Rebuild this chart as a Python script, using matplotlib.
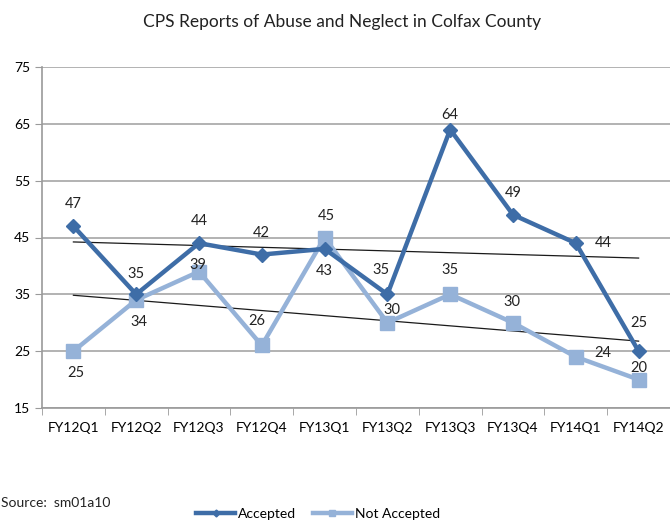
import numpy as np
import matplotlib.pyplot as plt

quarters = ["FY12Q1", "FY12Q2", "FY12Q3", "FY12Q4", "FY13Q1",
            "FY13Q2", "FY13Q3", "FY13Q4", "FY14Q1", "FY14Q2"]
accepted = [47, 35, 44, 42, 43, 35, 64, 49, 44, 25]
not_accepted = [25, 34, 39, 26, 45, 30, 35, 30, 24, 20]

# label offsets in pixels (dx, dy) relative to each point
acc_offsets = [(0, 22), (0, 20), (0, 22), (0, 22), (0, -22), (-6, 24), (0, 15), (0, 22), (28, 0), (0, 28)]
nacc_offsets = [(2, -22), (3, -22), (-1, 7), (-5, 24), (2, 21), (5, 13), (0, 24), (-1, 21), (27, 4), (0, 12)]

ACC_COLOR = "#3E6DA7"
NACC_COLOR = "#95B2D8"

plt.rcParams["font.family"] = ["Lato", "DejaVu Sans"]

fig = plt.figure(figsize=(6.7, 5.21), dpi=100)
ax = fig.add_axes([42 / 670, 113 / 521, 628 / 670, 341 / 521])

x = np.arange(len(quarters))

# linear trendlines
for series in (accepted, not_accepted):
    k, b = np.polyfit(x, series, 1)
    ax.plot(x, k * x + b, color="#1a1a1a", linewidth=0.9, zorder=2)

ax.plot(x, accepted, color=ACC_COLOR, linewidth=3.2, marker="D", markersize=7,
        label="Accepted", zorder=4)
ax.plot(x, not_accepted, color=NACC_COLOR, linewidth=3.2, marker="s", markersize=10,
        label="Not Accepted", zorder=3)

for xi, v, off in zip(x, accepted, acc_offsets):
    ax.annotate(str(v), (xi, v), xytext=off, textcoords="offset pixels",
                ha="center", va="center", fontsize=10.5, color="#222222", zorder=6)
for xi, v, off in zip(x, not_accepted, nacc_offsets):
    ax.annotate(str(v), (xi, v), xytext=off, textcoords="offset pixels",
                ha="center", va="center", fontsize=10.5, color="#222222", zorder=6)

ax.set_xlim(-0.5, len(quarters) - 0.5)
ax.set_ylim(15, 75)
ax.set_yticks(range(15, 76, 10))
ax.set_xticks(x)
ax.set_xticklabels(quarters)
ax.set_xticks(np.arange(-0.5, len(quarters), 1), minor=True)
ax.tick_params(axis="x", which="major", length=0, pad=10, labelsize=10)
ax.tick_params(axis="x", which="minor", length=5, color="#9a9a9a")
ax.tick_params(axis="y", length=5, color="#9a9a9a", labelsize=10)

ax.grid(axis="y", color="#a6a6a6", linewidth=1.2, zorder=0)
ax.set_axisbelow(True)
for side in ("top", "right"):
    ax.spines[side].set_visible(False)
for side in ("left", "bottom"):
    ax.spines[side].set_color("#9a9a9a")
    ax.spines[side].set_linewidth(1.2)

fig.text(342 / 670, 1 - 22 / 521, "CPS Reports of Abuse and Neglect in Colfax County",
         ha="center", va="center", fontsize=12.5, color="#222222")
fig.text(0.001, 1 - 503 / 521, "Source:  sm01a10", ha="left", va="center",
         fontsize=10, color="#222222")

fig.legend(loc="center", bbox_to_anchor=(318 / 670, 7 / 521), ncol=2, frameon=False,
           fontsize=10, handlelength=2.8, columnspacing=1.2, handletextpad=0.2,
           markerscale=0.5)

fig.savefig("out.png", dpi=100)
